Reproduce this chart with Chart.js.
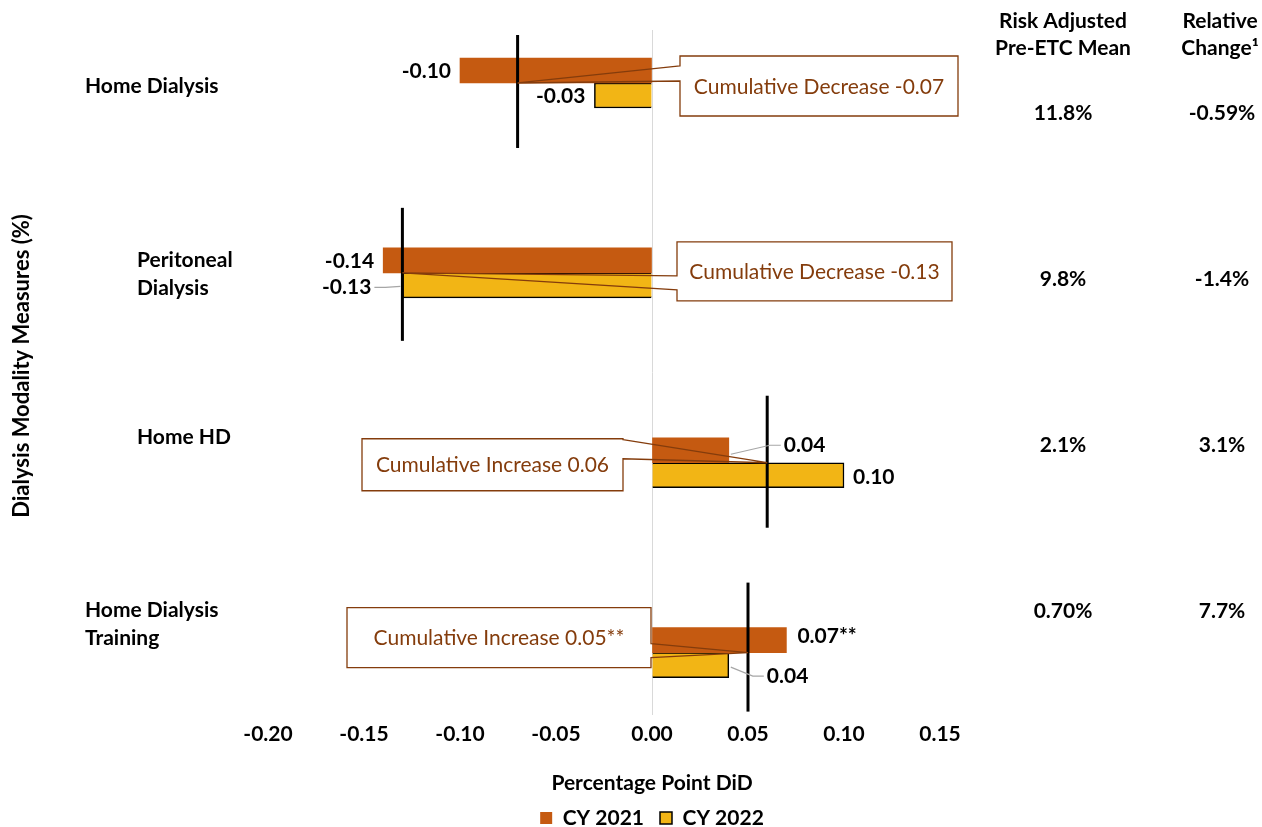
<!DOCTYPE html>
<html>
<head>
<meta charset="utf-8">
<script src="https://cdn.jsdelivr.net/npm/chart.js@4"></script>
<style>
  body { margin: 0; background: #fff; }
  #wrap { width: 1262px; height: 827px; }
</style>
</head>
<body>
<div id="wrap"><canvas id="didChart" width="1262" height="827"></canvas></div>
<script>
// chart data
const categories = [["Home Dialysis"], ["Peritoneal", "Dialysis"], ["Home HD"], ["Home Dialysis", "Training"]];
const cy2021 = [-0.10, -0.14, 0.04, 0.07];
const cy2022 = [-0.03, -0.13, 0.10, 0.04];
const sig2021 = ["", "", "", "**"];
const sig2022 = ["", "", "", ""];
const cumulative = [-0.07, -0.13, 0.06, 0.05];
const cumulativeSig = ["", "", "", "**"];
const preEtcMean = ["11.8%", "9.8%", "2.1%", "0.70%"];
const relativeChange = ["-0.59%", "-1.4%", "3.1%", "7.7%"];
const xTicks = [-0.20, -0.15, -0.10, -0.05, 0.00, 0.05, 0.10, 0.15];

// look
const FONT = "Lato, 'Open Sans', sans-serif";
const ORANGE = "#C55A11";
const YELLOW = "#F2B515";
const BROWN = "#843C0C";

// hand placed bits, offsets from the category centre
const catLabelPos = [{x: 85, dy: 3}, {x: 137, dy: 1}, {x: 137, dy: -25}, {x: 85, dy: -28}];
const markerSpan = [[-48, 65], [-65, 68], [-67, 65], [-70, 59]];
// l/r from the zero line, t/b and pointer anchors p1/p2 from the category centre
const callouts = [
  {l: 28, r: 306, t: -27, b: 33, p1: -17, p2: -2},
  {l: 25, r: 300, t: -31, b: 28, p1: 3, p2: 17},
  {l: -290, r: -29, t: -24, b: 28, p1: -23, p2: -4},
  {l: -305, r: -1, t: -45, b: 15, p1: -9, p2: 5}
];
// [dx, dy, leader line]
const nudge2021 = [[0, 1], [0, 1], [46, -5, true], [2, -4]];
const nudge2022 = [[0, 1], [-22, 2, true], [0, 2], [29, 11, true]];

const overlay = {
  id: "overlay",
  afterDatasetsDraw(chart) {
    const {ctx, scales: {x, y}} = chart;
    const zero = x.getPixelForValue(0);
    ctx.save();

    // cumulative markers
    ctx.strokeStyle = "#000";
    ctx.lineWidth = 3;
    cumulative.forEach((v, i) => {
      const px = x.getPixelForValue(v), cy = y.getPixelForValue(i);
      ctx.beginPath();
      ctx.moveTo(px, cy + markerSpan[i][0]);
      ctx.lineTo(px, cy + markerSpan[i][1]);
      ctx.stroke();
    });

    // callout boxes
    callouts.forEach((c, i) => {
      const tipX = x.getPixelForValue(cumulative[i]), cy = y.getPixelForValue(i);
      const l = zero + c.l, r = zero + c.r, t = cy + c.t, b = cy + c.b;
      const edge = tipX < l ? l : r, other = edge === l ? r : l;
      ctx.fillStyle = "#fff";
      ctx.fillRect(l, t, r - l, b - t);
      ctx.strokeStyle = BROWN;
      ctx.lineWidth = 1.3;
      ctx.beginPath();
      ctx.moveTo(edge, cy + c.p1);
      ctx.lineTo(tipX, cy);
      ctx.lineTo(edge, cy + c.p2);
      ctx.lineTo(edge, b);
      ctx.lineTo(other, b);
      ctx.lineTo(other, t);
      ctx.lineTo(edge, t);
      ctx.closePath();
      ctx.stroke();
      const word = cumulative[i] < 0 ? "Decrease" : "Increase";
      ctx.fillStyle = BROWN;
      ctx.font = "21px " + FONT;
      ctx.textAlign = "center";
      ctx.textBaseline = "middle";
      ctx.fillText(`Cumulative ${word} ${cumulative[i].toFixed(2)}${cumulativeSig[i]}`, (l + r) / 2, (t + b) / 2 + 1);
    });

    // bar value labels
    const sets = [[cy2021, sig2021, nudge2021], [cy2022, sig2022, nudge2022]];
    sets.forEach(([vals, sig, nudge], d) => {
      chart.getDatasetMeta(d).data.forEach((bar, i) => {
        const dir = vals[i] < 0 ? -1 : 1;
        const [dx, dy, leader] = nudge[i];
        const lx = bar.x + dir * 9 + dx, ly = bar.y + dy;
        if (leader) {
          ctx.strokeStyle = "#A6A6A6";
          ctx.lineWidth = 1.2;
          ctx.beginPath();
          ctx.moveTo(bar.x + dir * 2, bar.y + (dir > 0 ? (dy < 0 ? 4 : 2) : 1));
          ctx.lineTo(lx - dir * 14, ly);
          ctx.lineTo(lx - dir * 3, ly);
          ctx.stroke();
        }
        ctx.fillStyle = "#000";
        ctx.font = "bold 21px " + FONT;
        ctx.textAlign = dir < 0 ? "right" : "left";
        ctx.textBaseline = "middle";
        ctx.fillText(vals[i].toFixed(2) + sig[i], lx, ly);
      });
    });

    // category names
    ctx.font = "bold 21px " + FONT;
    ctx.textAlign = "left";
    ctx.fillStyle = "#000";
    categories.forEach((lines, i) => {
      const cy = y.getPixelForValue(i) + catLabelPos[i].dy;
      lines.forEach((s, k) => {
        ctx.fillText(s, catLabelPos[i].x, cy + (k - (lines.length - 1) / 2) * 28);
      });
    });

    // side table
    ctx.textAlign = "center";
    ctx.fillText("Risk Adjusted", 1063, 21);
    ctx.fillText("Pre-ETC Mean", 1063, 48);
    ctx.fillText("Relative", 1220, 21);
    ctx.fillText("Change\u00B9", 1220, 48);
    preEtcMean.forEach((s, i) => {
      ctx.fillText(s, 1063, 113 + i * 166);
      ctx.fillText(relativeChange[i], 1222, 113 + i * 166);
    });

    // y axis title
    ctx.translate(22, 366);
    ctx.rotate(-Math.PI / 2);
    ctx.font = "bold 22px " + FONT;
    ctx.fillText("Dialysis Modality Measures (%)", 0, 0);

    ctx.restore();
  }
};

new Chart(document.getElementById("didChart"), {
  type: "bar",
  data: {
    datasets: [
      {
        label: "CY 2021",
        data: cy2021.map((v, i) => ({x: v, y: i})),
        backgroundColor: ORANGE,
        borderWidth: 0
      },
      {
        label: "CY 2022",
        data: cy2022.map((v, i) => ({x: v, y: i})),
        backgroundColor: YELLOW,
        borderColor: "#000",
        borderWidth: 1.5
      }
    ]
  },
  options: {
    indexAxis: "y",
    responsive: false,
    animation: false,
    barThickness: 25,
    layout: { padding: { left: 42, right: 0, top: 30, bottom: 0 } },
    scales: {
      x: {
        min: -0.2,
        max: 0.15,
        afterBuildTicks: s => { s.ticks = xTicks.map(v => ({value: v})); },
        ticks: {
          callback: v => v.toFixed(2),
          color: "#000",
          padding: 7,
          font: { family: FONT, size: 21, weight: "bold" }
        },
        grid: {
          drawTicks: false,
          color: c => (c.tick && c.tick.value === 0 ? "#D9D9D9" : "transparent")
        },
        border: { display: false }
      },
      y: {
        type: "linear",
        offset: false,
        reverse: true,
        min: -0.279,
        max: 3.326,
        ticks: { display: false },
        grid: { display: false },
        border: { display: false },
        afterFit: s => { s.width = 226; }
      },
      side: {
        type: "linear",
        position: "right",
        ticks: { display: false },
        grid: { display: false },
        border: { display: false },
        afterFit: s => { s.width = 322; }
      }
    },
    plugins: {
      tooltip: { enabled: false },
      title: {
        display: true,
        text: "Percentage Point DiD",
        position: "bottom",
        weight: 500,
        color: "#000",
        font: { family: FONT, size: 21, weight: "bold", lineHeight: 0.8 },
        padding: { top: 21, bottom: 0 }
      },
      legend: {
        position: "bottom",
        maxHeight: 35.5,
        labels: {
          color: "#000",
          boxWidth: 12,
          boxHeight: 12,
          padding: 16,
          font: { family: FONT, size: 21, weight: "bold" }
        }
      }
    }
  },
  plugins: [overlay]
});
</script>
</body>
</html>
